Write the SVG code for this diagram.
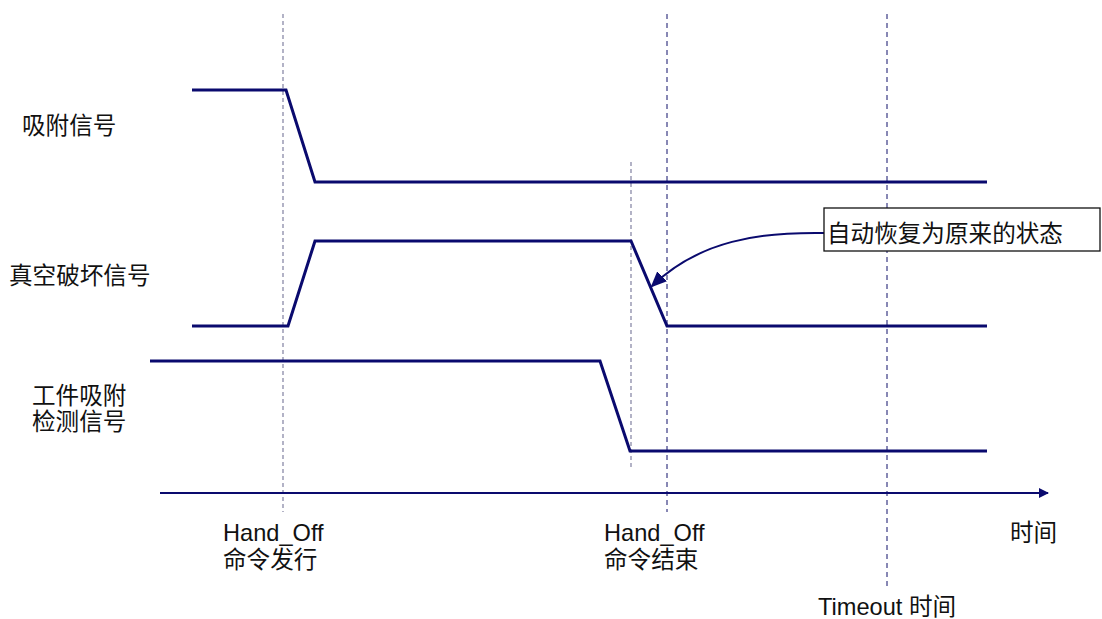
<svg xmlns="http://www.w3.org/2000/svg" width="1102" height="619" viewBox="0 0 1102 619">
<defs>
<style>
text{font-family:"Liberation Sans","Noto Sans CJK SC",sans-serif;font-size:23.6px;fill:#111}
.sig{fill:none;stroke:#0a0a6e;stroke-width:3;stroke-linejoin:miter}
.gdash{stroke:#8a8aa8;stroke-width:1.3;stroke-dasharray:4 3}
.ndash{stroke:#10106a;stroke-width:1;stroke-dasharray:5 4}
.axis{stroke:#0a0a6e;stroke-width:2;fill:none}
</style>
<marker id="ah" markerWidth="10" markerHeight="10" refX="9" refY="5" orient="auto" markerUnits="userSpaceOnUse"><path d="M0,0 L10,5 L0,10 z" fill="#0a0a6e"/></marker>
<marker id="ah2" markerWidth="16" markerHeight="14" refX="14" refY="7" orient="auto" markerUnits="userSpaceOnUse"><path d="M0,0 L16,7 L0,14 z" fill="#0a0a6e"/></marker>
</defs>
<rect width="1102" height="619" fill="#fff"/>
<g id="guides">
<line class="gdash" x1="283" y1="14" x2="283" y2="512"/>
<line class="gdash" x1="631" y1="162" x2="631" y2="470"/>
<line class="ndash" x1="667" y1="14" x2="667" y2="512"/>
<line class="ndash" x1="887" y1="14" x2="887" y2="590"/>
</g>
<g id="connectors">
<path class="axis" d="M160,493 L1048,493" marker-end="url(#ah)"/>
<path d="M824,233 C760,232 700,240 652,286" fill="none" stroke="#0a0a6e" stroke-width="2" marker-end="url(#ah2)"/>
</g>
<g id="signal-suction">
<polyline class="sig" points="192,90 286,90 315,182 987,182"/>
<text x="22" y="134">吸附信号</text>
</g>
<g id="signal-vacuum-break">
<polyline class="sig" points="192,326 288,326 315,241 631,241 667,326 987,326"/>
<text x="9" y="284">真空破坏信号</text>
</g>
<g id="signal-workpiece">
<polyline class="sig" points="150,361 600,361 630,451 987,451"/>
<text x="32" y="404">工件吸附</text>
<text x="32" y="430">检测信号</text>
</g>
<g id="callout">
<rect x="824" y="208" width="276" height="43" fill="#fff" stroke="#111" stroke-width="1.3"/>
<text x="827" y="242">自动恢复为原来的状态</text>
</g>
<g id="labels">
<text x="223" y="541">Hand_Off</text>
<text x="223" y="568">命令发行</text>
<text x="604" y="541">Hand_Off</text>
<text x="604" y="568">命令结束</text>
<text x="1010" y="541">时间</text>
<text x="818" y="615">Timeout 时间</text>
</g>
</svg>
